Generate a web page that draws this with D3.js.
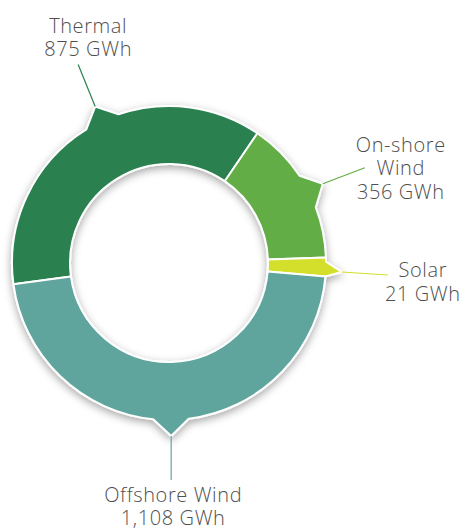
<!DOCTYPE html>
<html>
<head>
<meta charset="utf-8">
<script src="https://cdn.jsdelivr.net/npm/d3@7"></script>
<style>
  html, body { margin: 0; padding: 0; background: #fff; }
  .label { font-family: "Open Sans", sans-serif; font-weight: 300; font-size: 20px; fill: #4f4f4f; letter-spacing: 0.6px; }
</style>
</head>
<body>
<div class="donut"></div>
<script>
// data
var categories = ["Thermal", "On-shore\nWind", "Solar", "Offshore Wind"];
var values = [875, 356, 21, 1108];
var unit = "GWh";
var colors = ["#2a8150", "#62ad44", "#d3df2b", "#5fa59e"];

function init() {
  var w = 466;
  var h = 529;
  var cx = 169, cy = 263;
  var outerR = 157, innerR = 99;
  var tipR = outerR + 16;
  var deg = Math.PI / 180;

  // callout layout: pointer shift from slice middle, leader line vector, text offset from line end
  var callouts = [
    { shift: 6.5, line: [-17, -42], text: [10, -32] },
    { shift: 1.6, line: [42, -16], text: [36, -16] },
    { shift: 1.5, line: [46, 3], text: [35, 2] },
    { shift: 0.7, line: [0, 44], text: [2, 22] }
  ];

  var total = d3.sum(values);
  var minShare = 0.0195; // keep tiny slices visible

  var pie = d3.pie()
    .sort(null)
    .value(function(d) { return Math.max(d, total * minShare); })
    .startAngle(-97.8 * deg)
    .endAngle(-97.8 * deg + 2 * Math.PI);

  var arcs = pie(values);

  var svg = d3.select(".donut")
    .append("svg")
    .attr("width", w)
    .attr("height", h);

  var defs = svg.append("defs");
  var filter = defs.append("filter")
    .attr("id", "shadow")
    .attr("x", "-20%").attr("y", "-20%")
    .attr("width", "140%").attr("height", "140%");
  filter.append("feDropShadow")
    .attr("dx", 0)
    .attr("dy", 3)
    .attr("stdDeviation", 4)
    .attr("flood-color", "#000")
    .attr("flood-opacity", 0.35);

  function pt(r, a) {
    return [cx + r * Math.sin(a), cy - r * Math.cos(a)];
  }

  // slice outline with a little pointer on the outer edge
  function slicePath(d, i) {
    var a0 = d.startAngle, a1 = d.endAngle;
    var mid = (a0 + a1) / 2 + callouts[i].shift * deg;
    var half = Math.min(6.5 * deg, (a1 - a0) / 2);
    var b0 = Math.max(a0, mid - half), b1 = Math.min(a1, mid + half);
    var p = d3.path();
    var s = pt(outerR, a0);
    p.moveTo(s[0], s[1]);
    if (b0 > a0) p.arc(cx, cy, outerR, a0 - Math.PI / 2, b0 - Math.PI / 2);
    var t = pt(tipR, mid);
    p.lineTo(t[0], t[1]);
    var e = pt(outerR, b1);
    p.lineTo(e[0], e[1]);
    if (a1 > b1) p.arc(cx, cy, outerR, b1 - Math.PI / 2, a1 - Math.PI / 2);
    var ie = pt(innerR, a1);
    p.lineTo(ie[0], ie[1]);
    p.arc(cx, cy, innerR, a1 - Math.PI / 2, a0 - Math.PI / 2, true);
    p.closePath();
    return p.toString();
  }

  var ring = svg.append("g").attr("filter", "url(#shadow)");

  ring.selectAll("path")
    .data(arcs)
    .enter()
    .append("path")
    .attr("d", slicePath)
    .style("fill", function(d, i) { return colors[i]; })
    .style("stroke", "#fff")
    .style("stroke-width", 2)
    .style("stroke-linejoin", "round");

  // leader lines and labels
  var fmt = d3.format(",");
  arcs.forEach(function(d, i) {
    var c = callouts[i];
    var mid = (d.startAngle + d.endAngle) / 2 + c.shift * deg;
    var t = pt(tipR, mid);
    var end = [t[0] + c.line[0], t[1] + c.line[1]];

    svg.append("line")
      .attr("x1", t[0]).attr("y1", t[1])
      .attr("x2", end[0]).attr("y2", end[1])
      .style("stroke", colors[i])
      .style("stroke-width", 1.2);

    var rows = categories[i].split("\n").concat([fmt(values[i]) + " " + unit]);
    var text = svg.append("text")
      .attr("class", "label")
      .attr("text-anchor", "middle")
      .attr("x", end[0] + c.text[0])
      .attr("y", end[1] + c.text[1]);

    rows.forEach(function(r, k) {
      text.append("tspan")
        .attr("x", end[0] + c.text[0])
        .attr("dy", k === 0 ? 0 : 23.5)
        .text(r);
    });
  });
}

window.onload = init;
</script>
</body>
</html>
